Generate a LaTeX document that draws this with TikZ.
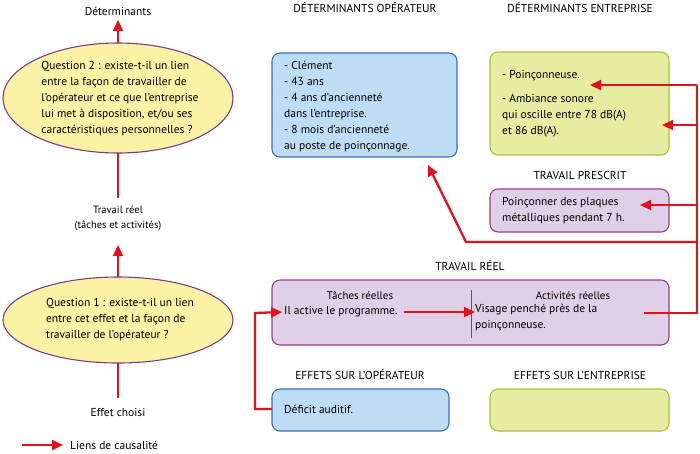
\documentclass[tikz,border=0pt]{standalone}
\usepackage{fontspec}
\setmainfont{PT Sans}
\usetikzlibrary{arrows.meta}
\definecolor{bfill}{HTML}{BEDDF5}\definecolor{bdraw}{HTML}{3A6EB5}
\definecolor{gfill}{HTML}{E6EDA2}\definecolor{gdraw}{HTML}{A9C23A}
\definecolor{pfill}{HTML}{DDD0E7}\definecolor{pdraw}{HTML}{9B3C8A}
\definecolor{yfill}{HTML}{FBF2A6}\definecolor{edraw}{HTML}{7A3D8A}
\definecolor{rl}{HTML}{E3101E}
\tikzset{
 box/.style={rounded corners=8pt,line width=1.1pt},
 bl/.style={box,fill=bfill,draw=bdraw},
 gr/.style={box,fill=gfill,draw=gdraw},
 pu/.style={box,fill=pfill,draw=pdraw},
 ell/.style={draw=edraw,fill=yfill,line width=1.1pt},
 rarr/.style={draw=rl,line width=2.3pt,-{Triangle[length=11pt,width=10pt]}},
 rline/.style={draw=rl,line width=2.3pt},
 txt/.style={font=\fontsize{11.5}{16}\selectfont,align=left,inner sep=0},
 hd/.style={font=\fontsize{11.5}{15}\selectfont,inner sep=0},
}
\begin{document}
\begin{tikzpicture}[x=1pt,y=-1pt]
\useasboundingbox (0,0) rectangle (700,453);
% left column
\node[hd] (det) at (118,11) {Déterminants};
\draw[ell] (118,98) ellipse [x radius=115,y radius=55];
\coordinate (q2t) at (118,43); \coordinate (q2b) at (118,153);
\node[txt] (q2) at (120,99) {Question 2 : existe-t-il un lien\\entre la façon de travailler de\\l’opérateur et ce que l’entreprise\\lui met à disposition, et/ou ses\\caractéristiques personnelles ?};
\node[hd,align=center,font=\fontsize{10.5}{15}\selectfont] (tr) at (118,218) {Travail réel\\(tâches et activités)};
\draw[ell] (118,320) ellipse [x radius=115,y radius=43];
\coordinate (q1t) at (118,277); \coordinate (q1b) at (118,363);
\node[txt] (q1) at (120,320) {Question 1 : existe-t-il un lien\\entre cet effet et la façon de\\travailler de l’opérateur ?};
\node[hd] (eff) at (118,412) {Effet choisi};
\draw[rarr] (q2t) -- (118,20);
\draw[rline] (q2b) -- (118,198);
\draw[rarr] (q1t) -- (118,245);
\draw[rline] (q1b) -- (118,398);
\coordinate (la) at (22,445); \coordinate (lb) at (63,445);
\draw[rarr] (la) -- (lb);
\node[hd,anchor=west] (leg) at (70,445) {Liens de causalité};
% headers
\node[hd] at (365,8) {DÉTERMINANTS OPÉRATEUR};
\node[hd] at (580,8) {DÉTERMINANTS ENTREPRISE};
\node[hd] at (580,175) {TRAVAIL PRESCRIT};
\node[hd] at (470,266) {TRAVAIL RÉEL};
\node[hd] at (360,375) {EFFETS SUR L’OPÉRATEUR};
\node[hd] at (580,375) {EFFETS SUR L’ENTREPRISE};
% boxes
\draw[bl] (272,53) rectangle (457,157);
\node[txt,anchor=north west] (op) at (284,61) {- Clément\\- 43 ans\\- 4 ans d’ancienneté\\dans l’entreprise.\\- 8 mois d’ancienneté\\au poste de poinçonnage.};
\draw[gr] (490,52) rectangle (669,155);
\node[txt,anchor=west] (poin) at (502,76) {- Poinçonneuse.};
\node[txt,anchor=north west] (amb) at (502,94) {- Ambiance sonore\\qui oscille entre 78 dB(A)\\et 86 dB(A).};
\draw[pu] (490,189) rectangle (669,232);
\node[txt,anchor=west] (pres) at (502,211) {Poinçonner des plaques\\métalliques pendant 7 h.};
\draw[pu] (272,280) rectangle (669,345);
\draw[edraw,line width=0.7pt] (471,290) -- (471,338);
\node[hd,font=\fontsize{11}{14}\selectfont] at (360,296) {Tâches réelles};
\node[hd,font=\fontsize{11}{14}\selectfont] at (573,296) {Activités réelles};
\node[txt,anchor=west] (tach) at (284,312) {Il active le programme.};
\node[txt,anchor=north west] (act) at (475,304) {Visage penché près de la\\poinçonneuse.};
\draw[bl] (272,389) rectangle (449,431);
\node[txt,anchor=west] (def) at (284,409) {Déficit auditif.};
\draw[gr] (490,389) rectangle (669,431);
% connectors
\coordinate (r0) at (644,313); \coordinate (rx) at (697,313);
\draw[rline] (r0) -- (rx) -- (697,85);
\draw[rarr] (697,85) -- (590,85);
\draw[rarr] (697,125) -- (662,125);
\draw[rarr] (697,205) -- (640,205);
\draw[rarr] (697,242) -- (466,242) -- (428,165);
\draw[rarr] ([xshift=6pt]tach.east) -- (act.west |- tach.east);
\draw[rarr] ([xshift=-12pt]def.west) -- (255,409) -- (255,313) -- ([xshift=-2pt]tach.west);
\end{tikzpicture}
\end{document}
